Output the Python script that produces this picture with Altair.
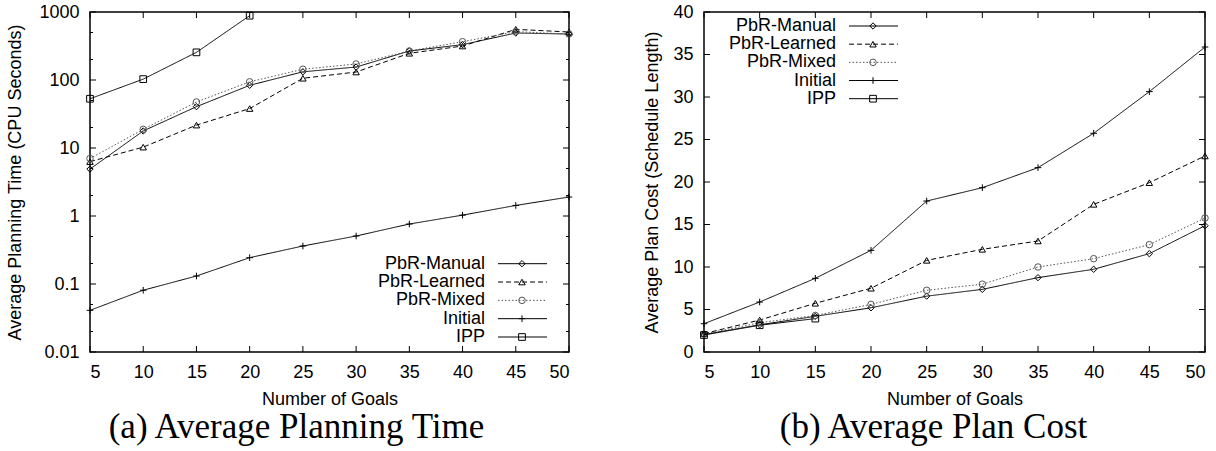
import altair as alt
import pandas as pd

# ---------------- data ----------------
goals = [5, 10, 15, 20, 25, 30, 35, 40, 45, 50]
series_names = ["PbR-Manual", "PbR-Learned", "PbR-Mixed", "Initial", "IPP"]

# (a) Average planning time (CPU seconds, log scale)
time_manual = [4.9, 17.8, 40.5, 83.5, 132, 155, 267, 331, 491, 474]
time_learned = [6.3, 10.3, 21.7, 38, 106, 131, 247, 316, 556, 508]
time_mixed = [7.0, 18.8, 47.5, 94, 144, 172, 267, 366, 514, 474]
time_initial = [0.041, 0.081, 0.131, 0.244, 0.362, 0.508, 0.762, 1.03, 1.43, 1.9]
time_ipp = [53, 103, 255, 883]

# (b) Average plan cost (schedule length)
cost_manual = [2.05, 3.2, 4.2, 5.2, 6.57, 7.37, 8.75, 9.73, 11.57, 14.86]
cost_learned = [2.16, 3.76, 5.73, 7.5, 10.78, 12.08, 13.06, 17.37, 19.92, 23.06]
cost_mixed = [2.1, 3.45, 4.3, 5.6, 7.26, 7.98, 10.0, 10.98, 12.63, 15.76]
cost_initial = [3.33, 5.88, 8.67, 11.96, 17.76, 19.33, 21.69, 25.73, 30.63, 35.88]
cost_ipp = [2.0, 3.15, 3.93]

time_ticks_major = [0.01, 0.1, 1, 10, 100, 1000]
time_ticks_minor = [0.02, 0.05, 0.2, 0.5, 2, 5, 20, 50, 200, 500]
cost_ticks = [0, 5, 10, 15, 20, 25, 30, 35, 40]

# ---------------- styling ----------------
SANS = "Liberation Sans"
SERIF = "Liberation Serif"
colors = ["black", "black", "#555555", "black", "black"]
dashes = [[1, 0], [5, 3], [1.5, 2], [1, 0], [1, 0]]
shapes = ["diamond", "triangle-up", "circle", "M-1,0H1M0,-1V1", "square"]
sizes = [40, 45, 50, 60, 45]


def long_df(cols):
    rows = []
    for name, vals in zip(series_names, cols):
        for g, v in zip(goals, vals):
            rows.append({"goals": g, "value": v, "series": name})
    return pd.DataFrame(rows)


color_enc = alt.Color("series:N", scale=alt.Scale(domain=series_names, range=colors), legend=None)
dash_enc = alt.StrokeDash("series:N", scale=alt.Scale(domain=series_names, range=dashes), legend=None)
shape_enc = alt.Shape("series:N", scale=alt.Scale(domain=series_names, range=shapes), legend=None)
size_enc = alt.Size("series:N", scale=alt.Scale(domain=series_names, range=sizes), legend=None)


def panel(df, y_scale, y_values, y_format, y_title, minor, W, H, legend_pos, y_tp, caption, cap_dx):
    x_enc = alt.X(
        "goals:Q",
        scale=alt.Scale(domain=[5, 50], nice=False, zero=False),
        axis=alt.Axis(values=goals, format="d", title="Number of Goals", ticks=False,
                      domain=False, grid=False, labelPadding=11, titlePadding=9),
    )
    y_enc = alt.Y(
        "value:Q",
        scale=y_scale,
        axis=alt.Axis(values=y_values, format=y_format, title=y_title, ticks=False,
                      domain=False, grid=False, labelPadding=11, titlePadding=y_tp),
    )
    base = alt.Chart(df)
    lines = base.mark_line(strokeWidth=1).encode(x=x_enc, y=y_enc, color=color_enc,
                                                 strokeDash=dash_enc, detail="series:N")
    pts = base.mark_point(filled=False, strokeWidth=1, opacity=1).encode(
        x=x_enc, y=y_enc, color=color_enc, shape=shape_enc, size=size_enc)

    xt = pd.DataFrame({"goals": goals})
    xt_bot = alt.Chart(xt).mark_rule(color="black", strokeWidth=1).encode(
        x=x_enc, y=alt.value(H), y2=alt.value(H - 6))
    xt_top = alt.Chart(xt).mark_rule(color="black", strokeWidth=1).encode(
        x=x_enc, y=alt.value(0), y2=alt.value(6))
    yt = pd.DataFrame({"value": y_values})
    yt_l = alt.Chart(yt).mark_rule(color="black", strokeWidth=1).encode(
        y=y_enc, x=alt.value(0), x2=alt.value(6))
    yt_r = alt.Chart(yt).mark_rule(color="black", strokeWidth=1).encode(
        y=y_enc, x=alt.value(W - 6), x2=alt.value(W))
    layers = [lines, pts, xt_bot, xt_top, yt_l, yt_r]
    if minor:
        ym = pd.DataFrame({"value": minor})
        layers.append(alt.Chart(ym).mark_rule(color="black", strokeWidth=1).encode(
            y=y_enc, x=alt.value(0), x2=alt.value(3)))
        layers.append(alt.Chart(ym).mark_rule(color="black", strokeWidth=1).encode(
            y=y_enc, x=alt.value(W - 3), x2=alt.value(W)))
    data_layer = alt.layer(*layers)

    lab_x, l0, l1, mk_x, y_first, y_last = legend_pos
    leg = alt.Chart(pd.DataFrame({"series": series_names}))
    ly = alt.Y("series:N", scale=alt.Scale(type="point", domain=series_names,
                                           range=[y_first, y_last], padding=0), axis=None)
    leg_text = leg.mark_text(align="right", baseline="middle", font=SANS, fontSize=18,
                             color="black").encode(y=ly, x=alt.value(lab_x), text="series:N")
    leg_rule = leg.mark_rule(strokeWidth=1).encode(y=ly, x=alt.value(l0), x2=alt.value(l1),
                                                   color=color_enc, strokeDash=dash_enc)
    leg_pt = leg.mark_point(filled=False, strokeWidth=1, opacity=1).encode(
        y=ly, x=alt.value(mk_x), color=color_enc, shape=shape_enc, size=size_enc)
    legend_layer = alt.layer(leg_text, leg_rule, leg_pt)

    return alt.layer(data_layer, legend_layer).resolve_scale(y="independent").properties(
        width=W, height=H,
        title=alt.TitleParams(caption, orient="bottom", anchor="middle", font=SERIF,
                              fontSize=35, fontWeight="normal", color="black",
                              offset=2, dx=cap_dx),
    )


time_df = long_df([time_manual, time_learned, time_mixed, time_initial, time_ipp])
cost_df = long_df([cost_manual, cost_learned, cost_mixed, cost_initial, cost_ipp])

left = panel(
    time_df,
    alt.Scale(type="log", domain=[0.01, 1000], nice=False),
    time_ticks_major, "~g", "Average Planning Time (CPU Seconds)", time_ticks_minor,
    479, 340, (395, 408, 457, 432, 251.7, 325), 14,
    "(a) Average Planning Time", -33,
)
right = panel(
    cost_df,
    alt.Scale(domain=[0, 40], nice=False, zero=True),
    cost_ticks, "d", "Average Plan Cost (Schedule Length)", None,
    501, 340, (132, 145, 194, 169, 14, 86.7), 11,
    "(b) Average Plan Cost", -21,
)

chart = alt.hconcat(left, right, spacing=135, bounds="flush").properties(
    padding={"left": 6, "top": 2, "right": 0, "bottom": 0},
    background="white",
).configure_view(stroke="black", strokeWidth=1.5).configure_axis(
    labelFont=SANS, labelFontSize=18, labelColor="black",
    titleFont=SANS, titleFontSize=18, titleFontWeight="normal", titleColor="black",
)

chart.save("out.html", embed_options={"renderer": "svg", "actions": False})
